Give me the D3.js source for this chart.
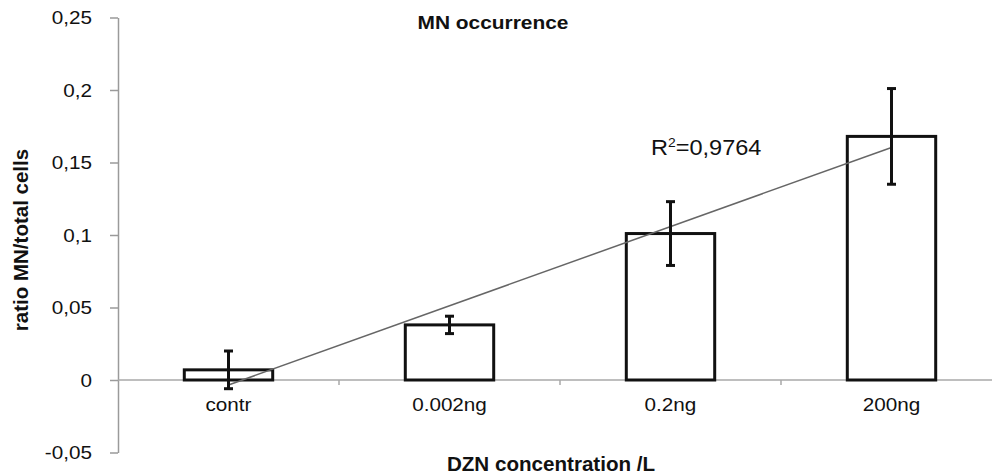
<!DOCTYPE html>
<html>
<head>
<meta charset="utf-8">
<script src="https://cdn.jsdelivr.net/npm/d3@7"></script>
<style>
  body { margin: 0; background: #fff; }
  text { font-family: Arial, "Liberation Sans", sans-serif; fill: #111; }
</style>
</head>
<body>
<div id="chart"></div>
<script>
// chart data
const CATEGORIES = ["contr", "0.002ng", "0.2ng", "200ng"];
const MEANS = [0.007, 0.038, 0.101, 0.168];
const ERRORS = [0.013, 0.006, 0.022, 0.033];
const Y_TICKS = [-0.05, 0, 0.05, 0.1, 0.15, 0.2, 0.25];
const R2_LABEL = "0,9764";

// constants for page set up
const FRAME_WIDTH = 992;
const FRAME_HEIGHT = 475;
const PLOT = {left: 118, right: 1002, top: 17.5, bottom: 452.5};

const FRAME = d3.select("#chart")
  .append("svg")
  .attr("width", FRAME_WIDTH)
  .attr("height", FRAME_HEIGHT);

const DATA = CATEGORIES.map((c, i) => ({cat: c, mean: MEANS[i], err: ERRORS[i]}));

// scales
const X_SCALE = d3.scaleBand()
  .domain(CATEGORIES)
  .range([PLOT.left, PLOT.right])
  .paddingInner(0.6)
  .paddingOuter(0.3);

const Y_SCALE = d3.scaleLinear()
  .domain([-0.05, 0.25])
  .range([PLOT.bottom, PLOT.top]);

// comma decimals, plain hyphen for negatives
const fmt = (v) => (v === 0 ? "0" : String(+v.toFixed(2)).replace(".", ","));

// y axis
const yAxis = FRAME.append("g")
  .attr("transform", "translate(" + PLOT.left + ",0)")
  .call(d3.axisLeft(Y_SCALE).tickValues(Y_TICKS).tickFormat(fmt).tickSize(8).tickSizeOuter(0));
yAxis.select(".domain").attr("stroke", "#9a9a9a").attr("stroke-width", 1.5);
yAxis.selectAll(".tick line").attr("stroke", "#9a9a9a").attr("stroke-width", 1.5);
yAxis.selectAll(".tick text")
  .attr("x", 0)
  .attr("dy", "0.36em")
  .attr("transform", "translate(-26,0) scale(1.15,1)")
  .attr("font-size", "18px")
  .attr("font-family", "Arial, 'Liberation Sans', sans-serif")
  .attr("fill", "#111");

// x axis at zero
const ZERO = Y_SCALE(0);
FRAME.append("line")
  .attr("x1", PLOT.left).attr("x2", FRAME_WIDTH)
  .attr("y1", ZERO).attr("y2", ZERO)
  .attr("stroke", "#a8a8a8").attr("stroke-width", 1.5);

// little ticks between categories
const STEP = X_SCALE.step();
FRAME.selectAll(".xtick")
  .data(CATEGORIES.slice(1))
  .enter()
  .append("line")
  .attr("x1", (d) => X_SCALE(d) - STEP * 0.3)
  .attr("x2", (d) => X_SCALE(d) - STEP * 0.3)
  .attr("y1", ZERO).attr("y2", ZERO + 5)
  .attr("stroke", "#a8a8a8").attr("stroke-width", 1.5);

// category labels
FRAME.selectAll(".xlab")
  .data(CATEGORIES)
  .enter()
  .append("text")
  .attr("text-anchor", "middle")
  .attr("transform", (d) => "translate(" + (X_SCALE(d) + X_SCALE.bandwidth() / 2) + "," + (ZERO + 31) + ") scale(1.15,1)")
  .attr("font-size", "18px")
  .text((d) => d);

// bars
FRAME.selectAll(".bar")
  .data(DATA)
  .enter()
  .append("rect")
  .attr("x", (d) => X_SCALE(d.cat))
  .attr("y", (d) => Y_SCALE(d.mean))
  .attr("width", X_SCALE.bandwidth())
  .attr("height", (d) => ZERO - Y_SCALE(d.mean))
  .attr("fill", "#fff")
  .attr("stroke", "#111")
  .attr("stroke-width", 3);

// trend line (least squares through the means)
const xs = CATEGORIES.map((c, i) => i + 1);
const mx = d3.mean(xs), my = d3.mean(MEANS);
const slope = d3.sum(xs, (x, i) => (x - mx) * (MEANS[i] - my)) / d3.sum(xs, (x) => (x - mx) * (x - mx));
const icpt = my - slope * mx;
const TREND = xs.map((x, i) => ({cat: CATEGORIES[i], v: icpt + slope * x}));
const trendLine = d3.line()
  .x((d) => X_SCALE(d.cat) + X_SCALE.bandwidth() / 2)
  .y((d) => Y_SCALE(d.v));
FRAME.append("path")
  .datum([TREND[0], TREND[TREND.length - 1]])
  .attr("d", trendLine)
  .attr("fill", "none")
  .attr("stroke", "#666")
  .attr("stroke-width", 1.5);

// error bars
const eb = FRAME.selectAll(".err")
  .data(DATA)
  .enter()
  .append("g")
  .attr("stroke", "#111")
  .attr("stroke-width", 3);
const cx = (d) => X_SCALE(d.cat) + X_SCALE.bandwidth() / 2;
eb.append("line")
  .attr("x1", cx).attr("x2", cx)
  .attr("y1", (d) => Y_SCALE(d.mean + d.err))
  .attr("y2", (d) => Y_SCALE(d.mean - d.err));
eb.append("line")
  .attr("x1", (d) => cx(d) - 4.5).attr("x2", (d) => cx(d) + 4.5)
  .attr("y1", (d) => Y_SCALE(d.mean + d.err))
  .attr("y2", (d) => Y_SCALE(d.mean + d.err));
eb.append("line")
  .attr("x1", (d) => cx(d) - 4.5).attr("x2", (d) => cx(d) + 4.5)
  .attr("y1", (d) => Y_SCALE(d.mean - d.err))
  .attr("y2", (d) => Y_SCALE(d.mean - d.err));

// R squared label
const r2 = FRAME.append("text")
  .attr("transform", "translate(651,155) scale(1.07,1)")
  .attr("font-size", "22px");
r2.append("tspan").text("R");
r2.append("tspan").attr("font-size", "13px").attr("dy", "-8").text("2");
r2.append("tspan").attr("dy", "8").text("=" + R2_LABEL);

// titles
FRAME.append("text")
  .attr("text-anchor", "middle")
  .attr("transform", "translate(493,29) scale(1.1,1)")
  .attr("font-size", "19px")
  .attr("font-weight", "bold")
  .text("MN occurrence");

FRAME.append("text")
  .attr("text-anchor", "middle")
  .attr("transform", "translate(551,471) scale(1.03,1)")
  .attr("font-size", "20px")
  .attr("font-weight", "bold")
  .text("DZN concentration /L");

FRAME.append("text")
  .attr("text-anchor", "middle")
  .attr("transform", "translate(28,240) rotate(-90)")
  .attr("font-size", "20.5px")
  .attr("font-weight", "bold")
  .text("ratio MN/total cells");
</script>
</body>
</html>
